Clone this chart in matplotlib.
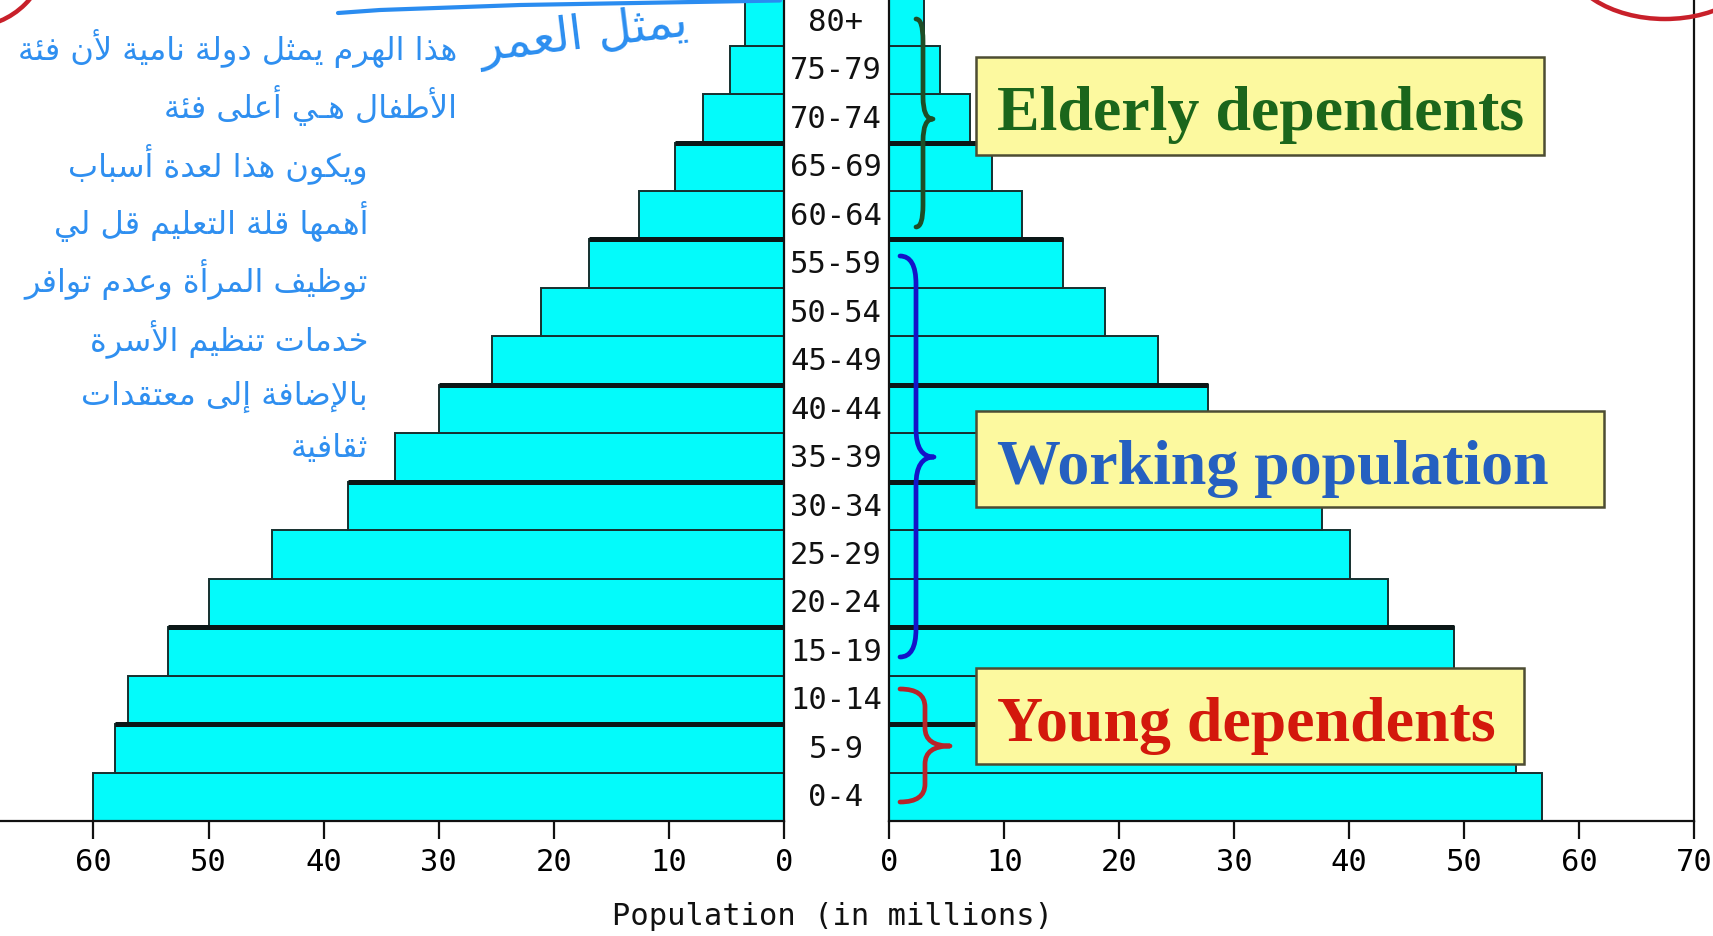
import matplotlib
matplotlib.use("Agg")
import matplotlib.pyplot as plt
import matplotlib.transforms as mtransforms
from matplotlib.patches import Rectangle, PathPatch, Ellipse
from matplotlib.path import Path
from matplotlib.lines import Line2D

age_groups = ["0-4", "5-9", "10-14", "15-19", "20-24", "25-29", "30-34", "35-39",
              "40-44", "45-49", "50-54", "55-59", "60-64", "65-69", "70-74", "75-79", "80+"]
left_pop = [60.0, 58.1, 57.0, 53.5, 50.0, 44.5, 37.9, 33.8, 30.0, 25.4, 21.1, 16.9,
            12.6, 9.5, 7.0, 4.7, 3.4]
right_pop = [56.8, 54.5, 54.0, 49.1, 43.4, 40.1, 37.6, 33.0, 27.7, 23.4, 18.8, 15.1,
             11.5, 8.9, 7.0, 4.4, 3.0]
thick_top = ["5-9", "15-19", "30-34", "40-44", "55-59", "65-69"]
left_ticks = [0, 10, 20, 30, 40, 50, 60]
right_ticks = [0, 10, 20, 30, 40, 50, 60, 70]

group_labels = ["Elderly dependents", "Working population", "Young dependents"]
group_colors = ["#1b661b", "#2560c0", "#d3180c"]
brace_colors = ["#1e4d26", "#1414c8", "#b8242a"]

note_lines = [
    "هذا الهرم يمثل دولة نامية لأن فئة",
    "الأطفال هـي أعلى فئة",
    "ويكون هذا لعدة أسباب",
    "أهمها قلة التعليم قل لي",
    "توظيف المرأة وعدم توافر",
    "خدمات تنظيم الأسرة",
    "بالإضافة إلى معتقدات",
    "ثقافية",
]
handwritten = "يمثل العمر"

W, H = 1713, 937
CYAN = "#03fbfb"
EDGE = "#16302f"
MONO = "DejaVu Sans Mono"

# matplotlib has no arabic shaping, so pick the presentation forms by hand
DUAL = {"ئ": 0xFE89, "ب": 0xFE8F, "ت": 0xFE95, "ث": 0xFE99, "ج": 0xFE9D, "ح": 0xFEA1,
        "خ": 0xFEA5, "س": 0xFEB1, "ش": 0xFEB5, "ص": 0xFEB9, "ض": 0xFEBD, "ط": 0xFEC1,
        "ظ": 0xFEC5, "ع": 0xFEC9, "غ": 0xFECD, "ف": 0xFED1, "ق": 0xFED5, "ك": 0xFED9,
        "ل": 0xFEDD, "م": 0xFEE1, "ن": 0xFEE5, "ه": 0xFEE9, "ي": 0xFEF1}
RIGHT = {"آ": 0xFE81, "أ": 0xFE83, "ؤ": 0xFE85, "إ": 0xFE87, "ا": 0xFE8D, "ة": 0xFE93,
         "د": 0xFEA9, "ذ": 0xFEAB, "ر": 0xFEAD, "ز": 0xFEAF, "و": 0xFEED, "ى": 0xFEEF,
         "لآ": 0xFEF5, "لأ": 0xFEF7, "لإ": 0xFEF9, "لا": 0xFEFB}


def shape(s):
    units, i = [], 0
    while i < len(s):
        if s[i] == "ل" and s[i:i + 2] in RIGHT:
            units.append(s[i:i + 2]); i += 2
        else:
            units.append(s[i]); i += 1
    jn = lambda u: u in DUAL or u == "ـ"
    jp = lambda u: u in DUAL or u in RIGHT or u == "ـ"
    out = []
    for k, u in enumerate(units):
        prev = k > 0 and jn(units[k - 1]) and jp(u)
        nxt = k + 1 < len(units) and jn(u) and jp(units[k + 1])
        if u in DUAL:
            out.append(chr(DUAL[u] + (3 if prev and nxt else 1 if prev else 2 if nxt else 0)))
        elif u in RIGHT:
            out.append(chr(RIGHT[u] + (1 if prev else 0)))
        else:
            out.append(u)
    return "".join(reversed(out))


def fx(px):
    return px / W


def fy(py):
    return 1 - py / H


def brace(fig, x_end, x_sp, x_tip, y0, ytip, y1, r, color):
    pts = [(x_end, y0), (x_sp, y0), (x_sp, y0 + r), (x_sp, ytip - r), (x_sp, ytip),
           (x_tip, ytip), (x_sp, ytip), (x_sp, ytip + r), (x_sp, y1 - r), (x_sp, y1),
           (x_end, y1)]
    codes = [Path.MOVETO, Path.CURVE3, Path.CURVE3, Path.LINETO, Path.CURVE3, Path.CURVE3,
             Path.CURVE3, Path.CURVE3, Path.LINETO, Path.CURVE3, Path.CURVE3]
    path = Path([(fx(x), fy(y)) for x, y in pts], codes)
    fig.add_artist(PathPatch(path, transform=fig.transFigure, fill=False, ec=color,
                             lw=3.4, capstyle="round", joinstyle="round", zorder=5))


fig = plt.figure(figsize=(W / 100, H / 100), dpi=100)
bottom = fy(822)
height = (822 + 1.8) / H
ax_l = fig.add_axes([0, bottom, fx(784), height])
ax_r = fig.add_axes([fx(889.3), bottom, fx(1694) - fx(889.3), height])

ypos = list(range(len(age_groups)))
for ax, vals, ticks, lim in [(ax_l, left_pop, left_ticks, (784 / 11.51, 0)),
                             (ax_r, right_pop, right_ticks, (0, 70))]:
    ax.barh(ypos, vals, height=1.0, color=CYAN, edgecolor=EDGE, lw=1.4, zorder=2)
    for g, v, y in zip(age_groups, vals, ypos):
        if g in thick_top:
            ax.hlines(y + 0.5, 0, v, color="#0b1717", lw=3.6, zorder=3)
    ax.set_xlim(*lim)
    ax.set_ylim(-0.5, 16.5)
    ax.set_xticks(ticks)
    ax.set_xticklabels([str(t) for t in ticks], fontfamily=MONO, fontsize=22)
    ax.set_yticks([])
    ax.tick_params(axis="x", direction="out", length=13, width=1.6, pad=6, color="#111")
    for sp in ax.spines.values():
        sp.set_color("#111")
        sp.set_linewidth(1.6)
    ax.spines["top"].set_color("#666")

ax_l.spines["left"].set_visible(False)

lab_tr = mtransforms.blended_transform_factory(fig.transFigure, ax_r.transData)
for g, y in zip(age_groups, ypos):
    fig.text(fx(836), y, g, transform=lab_tr, ha="center", va="center",
             fontfamily=MONO, fontsize=22, color="#111")

fig.text(fx(833), fy(917), "Population (in millions)", ha="center", va="center",
         fontfamily=MONO, fontsize=22, color="#111")

# braces next to the right pyramid
brace(fig, 916, 923, 933, 20, 120, 228, 22, brace_colors[0])
brace(fig, 900, 916, 934, 257, 458, 658, 28, brace_colors[1])
brace(fig, 900, 925, 950, 690, 747, 803, 18, brace_colors[2])

# yellow label boxes
boxes = [(976, 58, 1544, 156), (976, 412, 1604, 508), (976, 669, 1524, 765)]
for (x0, y0, x1, y1), lab, col in zip(boxes, group_labels, group_colors):
    fig.add_artist(Rectangle((fx(x0), fy(y1)), fx(x1) - fx(x0), fy(y0) - fy(y1),
                             transform=fig.transFigure, fc="#fcf99f", ec="#4d4d33",
                             lw=1.8, zorder=6))
    fig.text(fx(997), fy(y0 + 72), lab, ha="left", va="baseline", color=col,
             fontfamily="Liberation Serif", fontweight="bold", fontsize=46, zorder=7)

# arabic notes written over the chart
note_y = [49, 106, 164, 222, 280, 339, 397, 448]
note_x = [457, 457, 368, 368, 368, 368, 368, 368]
for line, x, y in zip(note_lines, note_x, note_y):
    fig.text(fx(x), fy(y), shape(line), ha="right", va="center", color="#2f8ff0",
             fontfamily="DejaVu Sans", fontsize=23, zorder=8)

fig.text(fx(690), fy(36), shape(handwritten), ha="right", va="center", color="#2b8ef0",
         fontfamily="DejaVu Sans", fontsize=34, rotation=7, zorder=8)
fig.add_artist(Line2D([fx(338), fx(380), fx(520), fx(780)], [fy(14), fy(11), fy(6), fy(1.5)],
                      transform=fig.transFigure, color="#2a8cf0", lw=3, solid_capstyle="round",
                      zorder=8))

# red circle marks cut by the top edge
fig.add_artist(Ellipse((fx(-30), fy(-50)), 2 * 78 / W, 2 * 78 / H, transform=fig.transFigure,
                       fill=False, ec="#c8202a", lw=3.2, zorder=8))
fig.add_artist(Ellipse((fx(1665), fy(-45)), 2 * 100 / W, 2 * 65 / H, transform=fig.transFigure,
                       fill=False, ec="#c8202a", lw=3.2, zorder=8))

fig.savefig("out.png", dpi=100)
